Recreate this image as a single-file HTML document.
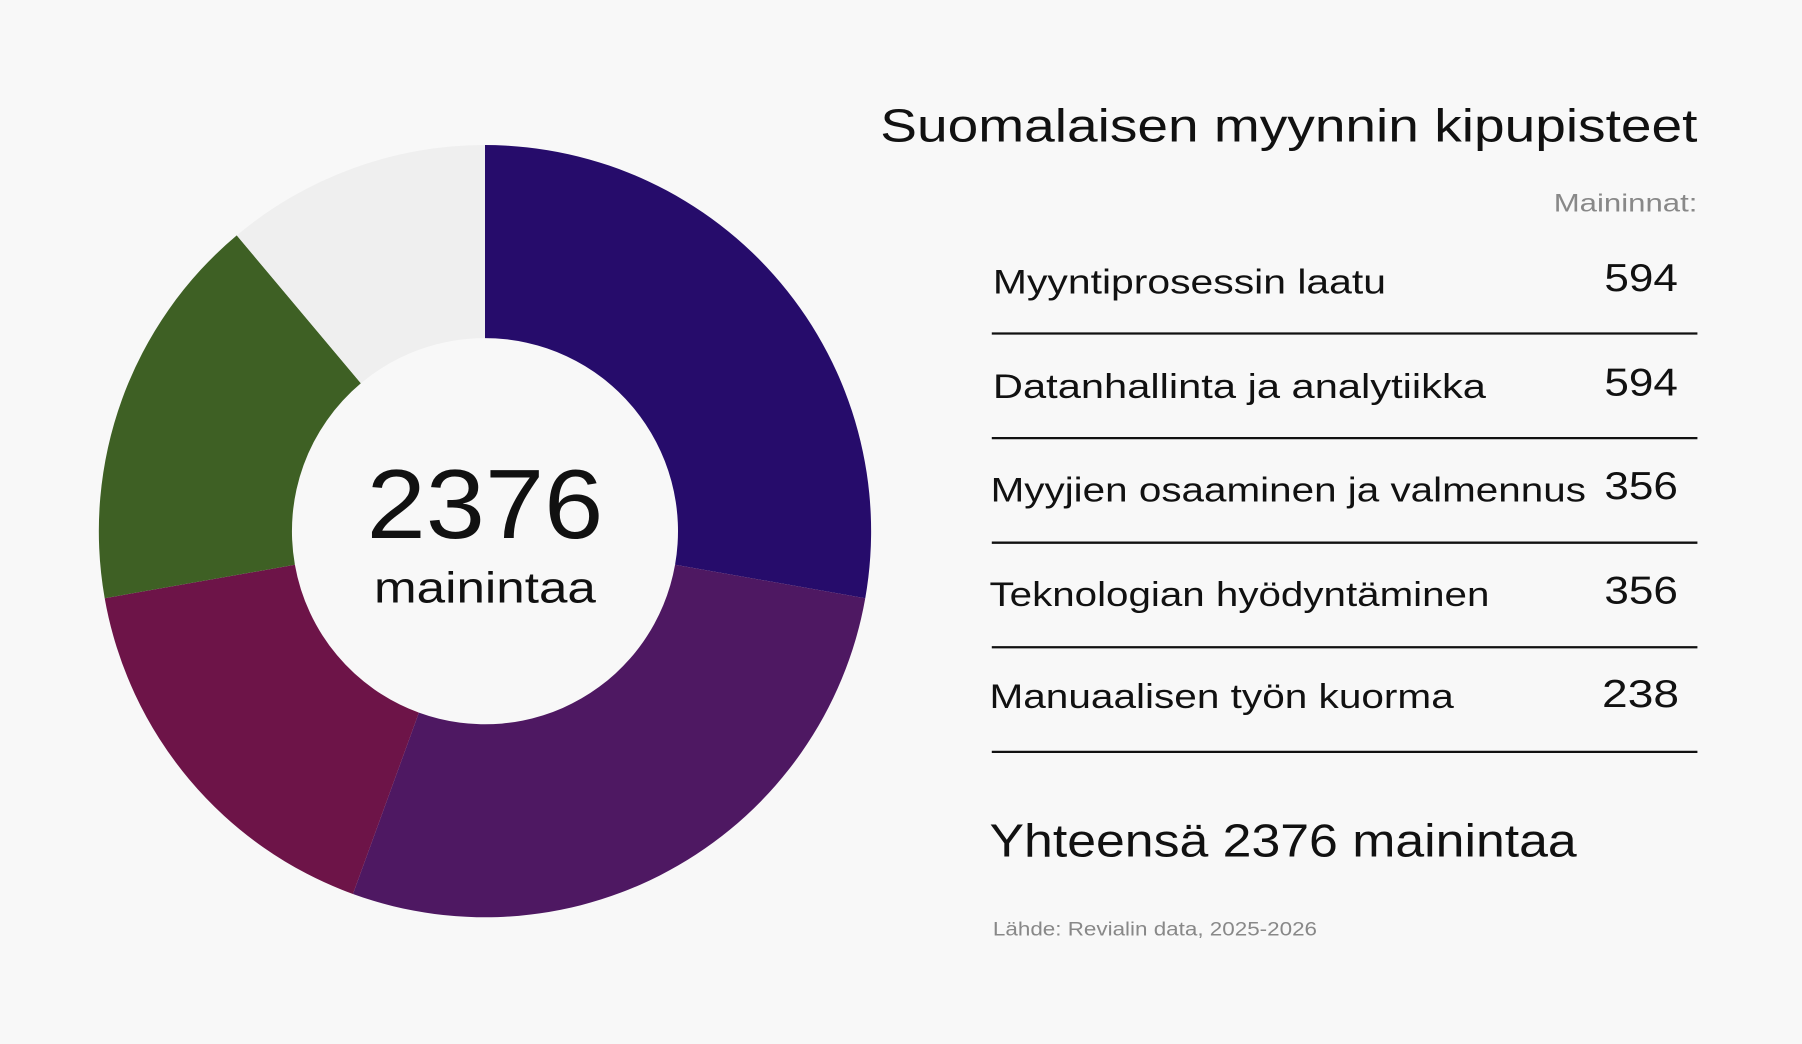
<!DOCTYPE html>
<html><head><meta charset="utf-8"><style>
html,body{margin:0;padding:0;background:#F8F8F8;}
svg{display:block;}
text{font-family:"Liberation Sans",sans-serif;fill:#111;}
</style></head><body>
<svg width="1802" height="1044" viewBox="0 0 1568 908" xmlns="http://www.w3.org/2000/svg">
<rect width="1568" height="908" fill="#F8F8F8"/>
<path d="M422,126 A336,336 0 0 1 752.9,520.3 L587.4,491.2 A168,168 0 0 0 422,294 Z" fill="#260C6B"/>
<path d="M752.9,520.3 A336,336 0 0 1 307.1,777.7 L364.5,619.9 A168,168 0 0 0 587.4,491.2 Z" fill="#4E1862"/>
<path d="M307.1,777.7 A336,336 0 0 1 91.1,520.3 L256.6,491.2 A168,168 0 0 0 364.5,619.9 Z" fill="#6D1448"/>
<path d="M91.1,520.3 A336,336 0 0 1 206.0,204.6 L314.0,333.3 A168,168 0 0 0 256.6,491.2 Z" fill="#3E6024"/>
<path d="M206.0,204.6 A336,336 0 0 1 422,126 L422,294 A168,168 0 0 0 314.0,333.3 Z" fill="#EFEFEF"/>
<text x="422" y="468" text-anchor="middle" font-size="86" textLength="206" lengthAdjust="spacingAndGlyphs">2376</text>
<text x="422" y="524" text-anchor="middle" font-size="38" textLength="193" lengthAdjust="spacingAndGlyphs">mainintaa</text>

<text x="766" y="123" font-size="40" textLength="711" lengthAdjust="spacingAndGlyphs">Suomalaisen myynnin kipupisteet</text>
<text x="1352" y="184" font-size="22" style="fill:#888" textLength="125" lengthAdjust="spacingAndGlyphs">Maininnat:</text>

<g font-size="30">
<text x="864" y="255" textLength="342" lengthAdjust="spacingAndGlyphs">Myyntiprosessin laatu</text>
<text x="864" y="346" textLength="429" lengthAdjust="spacingAndGlyphs">Datanhallinta ja analytiikka</text>
<text x="862" y="436" textLength="518" lengthAdjust="spacingAndGlyphs">Myyjien osaaminen ja valmennus</text>
<text x="861" y="527" textLength="435" lengthAdjust="spacingAndGlyphs">Teknologian hyödyntäminen</text>
<text x="861" y="616" textLength="404" lengthAdjust="spacingAndGlyphs">Manuaalisen työn kuorma</text>
</g>
<g font-size="34">
<text x="1396" y="253" textLength="64" lengthAdjust="spacingAndGlyphs">594</text>
<text x="1396" y="344" textLength="64" lengthAdjust="spacingAndGlyphs">594</text>
<text x="1396" y="434" textLength="64" lengthAdjust="spacingAndGlyphs">356</text>
<text x="1396" y="525" textLength="64" lengthAdjust="spacingAndGlyphs">356</text>
<text x="1394" y="615" textLength="67" lengthAdjust="spacingAndGlyphs">238</text>
</g>
<g stroke="#111" stroke-width="2">
<line x1="863" y1="290" x2="1477" y2="290"/>
<line x1="863" y1="381" x2="1477" y2="381"/>
<line x1="863" y1="472" x2="1477" y2="472"/>
<line x1="863" y1="563" x2="1477" y2="563"/>
<line x1="863" y1="654" x2="1477" y2="654"/>
</g>
<text x="861" y="745" font-size="40" textLength="511" lengthAdjust="spacingAndGlyphs">Yhteensä 2376 mainintaa</text>
<text x="864" y="814" font-size="17" style="fill:#888" textLength="282" lengthAdjust="spacingAndGlyphs">Lähde: Revialin data, 2025-2026</text>
</svg>
</body></html>
